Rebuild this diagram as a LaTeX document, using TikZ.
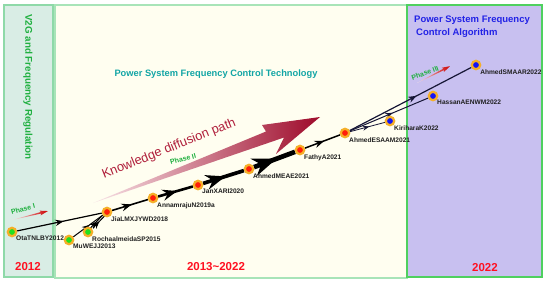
\documentclass[tikz,border=0pt]{standalone}
\usepackage{fontspec}
\setmainfont{Liberation Sans}
\usetikzlibrary{arrows.meta,decorations.markings}
\definecolor{leftfill}{HTML}{D9EDE5}
\definecolor{leftedge}{HTML}{8ED9A8}
\definecolor{midfill}{HTML}{FFFEF0}
\definecolor{midedge}{HTML}{A8E4B8}
\definecolor{rightfill}{HTML}{C8C0F0}
\definecolor{rightedge}{HTML}{4FD05F}
\definecolor{ringc}{HTML}{F5AF28}
\definecolor{redn}{HTML}{FF1E0A}
\definecolor{greenn}{HTML}{22E01E}
\definecolor{bluen}{HTML}{1414F5}
\definecolor{yearred}{HTML}{FF1020}
\definecolor{teal1}{HTML}{12A5A5}
\definecolor{blue1}{HTML}{2222E6}
\definecolor{greent}{HTML}{20B040}
\definecolor{crimson1}{HTML}{B0203C}
\definecolor{darkred1}{HTML}{9E0A2A}
\definecolor{palepink}{HTML}{F8E4E8}
\definecolor{lblc}{HTML}{202020}
\definecolor{navy1}{HTML}{161636}
\pgfdeclarelayer{back}
\pgfdeclarelayer{edges}
\pgfsetlayers{back,edges,main}
\tikzset{
  panel/.style={line width=1.2pt},
  cite/.style={circle, draw=ringc, line width=2.2pt, minimum size=8.4pt, inner sep=0pt},
  lbl/.style={font=\bfseries\fontsize{6.6}{7}\selectfont, text=lblc, inner sep=0.3pt},
  link/.style={draw=black, decoration={markings, mark=at position 0.55 with {\arrow{Stealth}}}, postaction={decorate}},
  year/.style={text=yearred, font=\bfseries\fontsize{11.5}{12}\selectfont},
  phasetxt/.style={text=greent, font=\bfseries\fontsize{7}{8}\selectfont, inner sep=0pt},
  pics/phasearrow/.style={code={
    \shade[left color=palepink, right color=red!80!black]
      (0,0) -- (30,-0.8) -- (29,-2.4) -- (37,0) -- (29,2.4) -- (30,0.8) -- cycle;}}
}
\begin{document}
\begin{tikzpicture}[x=1pt,y=-1pt]
\useasboundingbox (0,0) rectangle (550,285);
\begin{pgfonlayer}{back}
\fill[white] (0,0) rectangle (550,285);
\filldraw[panel, fill=leftfill, draw=leftedge] (4,5) rectangle (53,277);
\filldraw[panel, fill=midfill, draw=midedge] (55,5) rectangle (407,278);
\filldraw[panel, fill=rightfill, draw=rightedge] (407,5) rectangle (542,277);
\end{pgfonlayer}

% panel titles
\node[text=greent, font=\bfseries\fontsize{9.8}{10}\selectfont, rotate=-90] (t1) at (28,87) {V2G and Frequency Regulation};
\node[text=teal1, font=\bfseries\fontsize{9.3}{11}\selectfont] (t2) at (216,74) {Power System Frequency Control Technology};
\node[text=blue1, font=\bfseries\fontsize{9.5}{13}\selectfont, align=left, anchor=north west, inner sep=0pt] (t3) at (414,16) {Power System Frequency\\\hspace{2pt}Control Algorithm};
\node[year] (y1) at (28,267) {2012};
\node[year] (y2) at (216,267) {2013\textasciitilde 2022};
\node[year] (y3) at (485,268) {2022};

% knowledge diffusion arrow
\shade[left color=palepink, middle color=crimson1!55, right color=darkred1]
  (93,203) -- (266,131.5) -- (262,125) -- (320,117) -- (276,154) -- (284,137.5) -- cycle;
\node[text=crimson1, font=\fontsize{12.8}{13}\selectfont, rotate=22] (kdp) at (169,149) {Knowledge diffusion path};

% phase markers
\pic[rotate=14] at (12,220) {phasearrow};
\node[phasetxt, rotate=15] (p1) at (23,209) {Phase I};
\node[phasetxt, rotate=15] (p2) at (183,159) {Phase II};
\pic[rotate=27] at (417,83) {phasearrow};
\node[phasetxt, rotate=20] (p3) at (425,73) {Phase III};

% papers
\node[cite, fill=greenn, label={[lbl]below right:OtaTNLBY2012}] (ota) at (12,232) {};
\node[cite, fill=greenn, label={[lbl]below right:MuWEJJ2013}] (mu) at (69,240) {};
\node[cite, fill=greenn, label={[lbl]below right:RochaalmeidaSP2015}] (rocha) at (88,232) {};
\node[cite, fill=redn, label={[lbl]below right:JiaLMXJYWD2018}] (jia) at (107,212) {};
\node[cite, fill=redn, label={[lbl]below right:AnnamrajuN2019a}] (ann) at (153,198) {};
\node[cite, fill=redn, label={[lbl]below right:JanXARI2020}] (jan) at (198,185) {};
\node[cite, fill=redn, label={[lbl]below right:AhmedMEAE2021}] (ameae) at (249,169) {};
\node[cite, fill=redn, label={[lbl]below right:FathyA2021}] (fathy) at (300,150) {};
\node[cite, fill=redn, label={[lbl]below right:AhmedESAAM2021}] (esaam) at (345,133) {};
\node[cite, fill=bluen, label={[lbl]below right:KiriharaK2022}] (kiri) at (390,121) {};
\node[cite, fill=bluen, label={[lbl]below right:HassanAENWM2022}] (hassan) at (433,96) {};
\node[cite, fill=bluen, label={[lbl]below right:AhmedSMAAR2022}] (smaar) at (476,65) {};

% citation links
\begin{pgfonlayer}{edges}
\draw[link, line width=1.2pt] (ota) -- (jia);
\draw[link, line width=1pt] (mu) -- (jia);
\draw[link, line width=1pt, transform canvas={xshift=-1.3pt}] (rocha) -- (jia);
\draw[link, line width=1pt, transform canvas={xshift=1.3pt}] (rocha) -- (jia);
\draw[link, line width=1.6pt] (jia) -- (ann);
\draw[link, line width=2.6pt] (ann) -- (jan);
\draw[link, line width=3.7pt] (jan) -- (ameae);
\draw[link, line width=4.7pt] (ameae) -- (fathy);
\draw[link, line width=1.5pt] (fathy) -- (esaam);
\draw[link, draw=navy1, line width=0.8pt] (esaam) -- (kiri);
\draw[link, draw=navy1, line width=1pt] (esaam) -- (hassan);
\draw[link, draw=navy1, line width=1.2pt] (esaam) -- (smaar);
\end{pgfonlayer}
\end{tikzpicture}
\end{document}
